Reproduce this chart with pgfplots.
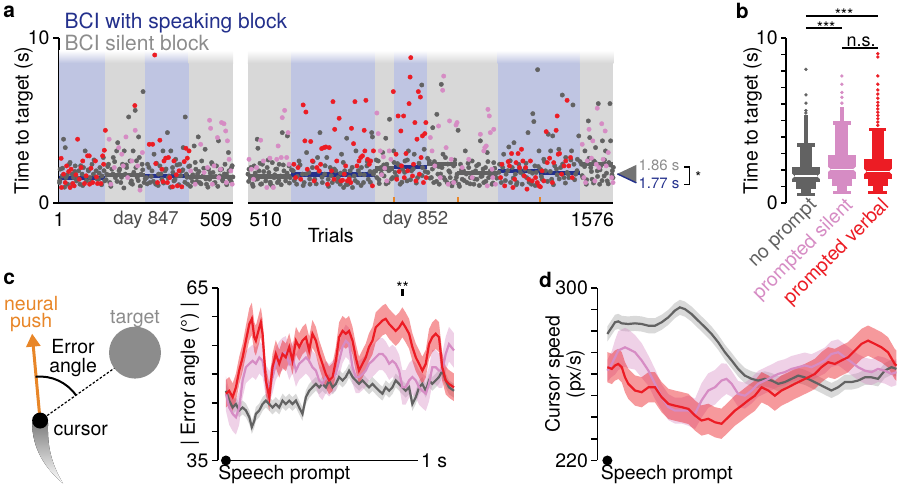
\documentclass[border=0pt]{standalone}
\usepackage{fontspec}
\setmainfont{TeX Gyre Heros}
\usepackage{pgfplots}
\usepackage{pgfplotstable}
\pgfplotsset{compat=1.18}
\usepgfplotslibrary{fillbetween}
\usetikzlibrary{arrows.meta}

\definecolor{bandblue}{RGB}{191,197,226}
\definecolor{bandgray}{RGB}{216,216,216}
\definecolor{dgray}{RGB}{98,98,98}
\definecolor{pinkc}{RGB}{214,140,196}
\definecolor{redc}{RGB}{236,28,36}
\definecolor{navy}{RGB}{35,48,140}
\definecolor{lgray}{RGB}{140,140,140}
\definecolor{orangec}{RGB}{232,134,40}

\newcommand\fs{\fontsize{19.5}{21}\selectfont}
\newcommand\fsm{\fontsize{15}{17}\selectfont}
\newcommand\fsb{\fontsize{21}{23}\selectfont\bfseries}

% block shading of panel a: solid part plus a fade at the top
\newcommand\band[3]{%
  \addplot[draw=none, fill=#3, forget plot] coordinates {(#1,0) (#2,0) (#2,8.5) (#1,8.5)} -- cycle;
  \addplot[draw=none, top color=white, bottom color=#3, forget plot] coordinates {(#1,8.48) (#2,8.48) (#2,9.25) (#1,9.25)} -- cycle;
}
% rectangles of the letter-value boxes in panel b
\newcommand\rect[5]{%
  \addplot[draw=none, fill=#5, forget plot] coordinates {(#1,#3) (#2,#3) (#2,#4) (#1,#4)} -- cycle;
}

\pgfplotsset{
  panel/.style={
    scale only axis, clip=false,
    axis x line=none, axis y line*=left,
    axis line style={line width=1.6pt},
    every tick/.style={black, line width=1.6pt},
    tick align=outside, major tick length=6pt,
    tick label style={font=\fs}, label style={font=\fs},
    /pgf/number format/assume math mode=true,
    xtick=\empty,
  },
  brk/.style={x filter/.expression={x+42*(x>509.5)}},
}

% ---------- panel a: trial, time to target (s) ----------
\pgfplotstableread[row sep=\\]{x y\\
4 2.04\\ 2 1.23\\ 10 1.63\\ 14 3.86\\ 19 3.35\\ 21 1.53\\ 26 1.13\\ 31 2.34\\ 39 1.74\\ 43 1.53\\ 48 2.24\\ 52 1.33\\ 58 1.94\\ 62 1.13\\
68 1.74\\ 72 2.14\\ 77 3.15\\ 81 1.33\\ 87 1.94\\ 91 1.53\\ 97 2.34\\ 101 1.74\\ 109 1.94\\ 116 1.43\\ 120 2.14\\ 126 1.63\\ 130 2.75\\ 134 1.33\\
140 1.74\\ 145 2.34\\ 149 1.23\\ 155 2.04\\ 159 2.75\\ 165 1.53\\ 169 3.15\\ 172 3.65\\ 176 1.94\\ 181 1.23\\ 186 2.34\\ 191 3.15\\ 194 1.74\\ 198 2.14\\
204 5.21\\ 208 2.54\\ 212 1.33\\ 215 1.13\\ 217 3.15\\ 223 5.61\\ 225 2.14\\ 229 1.53\\ 233 4.0\\ 235 2.75\\ 240 1.74\\ 243 2.34\\ 246 6.75\\ 249 1.23\\
256 1.53\\ 259 2.34\\ 266 1.23\\ 272 1.94\\ 278 2.95\\ 283 1.13\\ 291 1.74\\ 295 2.24\\ 301 1.43\\ 304 3.15\\ 310 1.94\\ 317 4.26\\ 322 1.63\\ 327 3.15\\
332 2.14\\ 336 1.33\\ 341 2.64\\ 346 1.63\\ 353 2.34\\ 359 1.94\\ 363 3.35\\ 369 5.21\\ 372 1.74\\ 376 1.13\\
382 2.24\\ 385 1.53\\ 390 1.29\\ 395 3.45\\ 400 2.04\\ 405 1.74\\ 407 4.0\\ 411 1.23\\ 417 2.54\\ 421 1.63\\ 427 3.25\\ 431 1.13\\ 437 2.04\\ 440 1.43\\
446 2.44\\ 450 1.84\\ 456 1.23\\ 460 2.24\\ 466 3.76\\ 470 1.63\\ 475 2.04\\ 479 1.33\\ 485 2.34\\ 489 1.74\\ 495 3.05\\ 499 1.43\\ 504 2.14\\ 508 1.57\\
510 1.74\\ 513 2.04\\ 518 1.53\\ 523 1.13\\ 528 2.24\\ 532 1.43\\ 537 3.86\\ 539 3.31\\ 542 1.94\\ 547 1.13\\ 552 2.34\\ 557 1.63\\ 562 1.33\\ 566 2.14\\
571 1.84\\ 576 1.13\\ 581 2.44\\ 586 1.53\\ 591 2.04\\ 596 1.23\\ 601 2.34\\ 605 1.63\\ 610 4.26\\ 615 1.94\\ 620 1.33\\ 625 4.06\\ 630 2.24\\ 633 1.53\\
642 1.94\\ 652 1.13\\ 659 2.54\\ 669 1.74\\ 674 1.23\\ 681 3.05\\ 688 1.84\\ 691 1.13\\ 698 2.14\\ 705 1.43\\ 713 2.75\\ 720 4.26\\ 727 1.23\\ 734 1.74\\
740 2.75\\ 744 1.43\\ 750 2.14\\ 756 1.23\\ 766 1.94\\ 773 1.53\\ 779 1.13\\ 783 2.95\\ 789 0.93\\ 792 1.94\\ 798 3.92\\ 802 1.13\\ 808 1.94\\ 815 0.93\\
820 1.63\\ 825 3.15\\ 830 1.23\\ 837 1.74\\ 841 2.14\\ 847 1.23\\ 857 2.24\\ 861 1.43\\ 866 1.9\\ 871 4.26\\ 873 4.0\\ 876 1.74\\
883 1.94\\ 886 1.53\\ 890 2.54\\ 893 1.17\\ 898 2.14\\ 903 3.05\\ 907 1.63\\ 912 3.92\\ 915 2.34\\ 919 1.23\\ 923 5.07\\ 927 2.04\\ 932 1.53\\ 935 3.15\\
939 1.84\\ 946 2.38\\ 954 1.13\\ 961 2.04\\ 968 2.54\\ 974 1.33\\ 978 3.15\\ 987 1.94\\ 995 2.95\\ 1005 1.53\\ 1017 7.15\\ 1019 2.14\\ 1024 3.25\\
1035 1.84\\ 1039 2.54\\ 1045 1.53\\ 1049 4.56\\ 1052 1.23\\ 1057 2.24\\ 1061 5.37\\ 1064 1.74\\ 1068 1.13\\ 1074 7.19\\ 1076 2.14\\ 1081 1.53\\ 1086 2.75\\
1091 1.23\\ 1096 1.94\\ 1100 1.53\\ 1105 1.03\\ 1110 2.24\\ 1115 1.33\\ 1120 1.74\\ 1123 4.4\\ 1125 1.13\\ 1130 2.34\\ 1135 1.43\\ 1139 1.94\\ 1144 3.15\\
1149 1.23\\ 1154 2.14\\ 1159 1.53\\ 1164 2.54\\ 1169 1.13\\ 1174 1.94\\ 1178 1.43\\ 1183 2.34\\ 1188 3.76\\ 1193 1.63\\ 1198 1.23\\ 1203 2.14\\ 1208 3.05\\
1212 1.53\\ 1217 1.94\\ 1222 1.13\\ 1227 2.44\\ 1232 1.74\\
1244 2.34\\ 1249 1.23\\ 1256 2.95\\ 1263 1.74\\ 1271 3.39\\ 1276 1.23\\ 1281 2.14\\ 1286 3.65\\ 1290 1.74\\ 1295 1.23\\ 1300 2.34\\ 1305 1.84\\ 1310 1.13\\
1318 2.04\\ 1323 1.53\\ 1327 4.26\\ 1331 1.9\\ 1337 1.13\\ 1341 5.41\\ 1344 4.93\\ 1347 2.24\\ 1351 1.84\\ 1355 8.08\\ 1359 3.15\\ 1363 2.04\\ 1368 1.43\\
1373 2.64\\ 1378 1.94\\ 1386 4.16\\ 1393 3.15\\ 1396 1.43\\ 1399 4.06\\ 1405 2.24\\ 1412 1.7\\ 1417 3.25\\ 1422 2.14\\ 1427 6.54\\ 1432 1.53\\ 1437 2.75\\
1441 1.84\\ 1446 1.53\\ 1454 3.15\\ 1458 5.94\\ 1461 2.34\\ 1466 1.74\\ 1471 2.64\\ 1475 4.06\\
1483 2.34\\ 1487 1.53\\ 1493 3.15\\ 1497 1.13\\ 1503 4.97\\ 1507 3.96\\ 1510 2.14\\ 1514 1.43\\ 1519 2.54\\ 1524 3.35\\ 1529 1.94\\ 1532 6.02\\ 1536 1.13\\
1539 2.24\\ 1544 3.76\\ 1549 1.63\\ 1553 3.15\\ 1558 1.33\\ 1563 2.44\\ 1566 6.02\\ 1568 3.76\\ 1573 1.94\\ 1575 1.53\\
3 1.35\\ 11 2.1\\ 17 0.95\\ 25 1.7\\ 33 2.45\\ 40 1.15\\ 47 1.9\\ 56 1.5\\ 64 2.25\\ 70 1.05\\ 79 1.6\\ 86 2.0\\ 94 1.25\\ 103 2.6\\ 112 1.45\\
118 1.8\\ 125 1.1\\ 132 1.95\\ 138 1.4\\ 143 2.2\\ 152 1.0\\ 158 1.75\\ 163 2.5\\ 170 1.3\\ 178 2.05\\ 183 1.55\\ 190 0.9\\ 197 2.3\\ 202 1.65\\ 210 1.2\\
219 1.85\\ 227 2.55\\ 232 1.35\\ 238 1.0\\ 245 2.0\\ 252 1.45\\ 258 1.15\\ 263 2.15\\ 270 1.6\\ 276 1.3\\ 285 2.4\\ 290 1.05\\ 298 1.75\\ 306 1.2\\ 313 2.05\\
319 1.5\\ 326 0.95\\ 333 1.85\\ 339 1.4\\ 345 2.3\\ 350 1.1\\ 356 1.65\\ 362 2.0\\ 368 1.25\\ 374 1.55\\ 379 2.2\\ 384 1.0\\ 391 1.7\\ 398 2.45\\ 403 1.3\\
409 1.9\\ 415 1.15\\ 423 2.1\\ 429 1.45\\ 435 0.95\\ 442 1.8\\ 448 2.35\\ 453 1.2\\ 458 1.6\\ 464 1.0\\ 471 2.0\\ 477 1.4\\ 483 1.75\\ 490 1.1\\ 497 1.95\\
503 1.3\\ 506 2.25\\
512 1.3\\ 519 2.15\\ 525 1.0\\ 531 1.8\\ 538 1.45\\ 545 2.4\\ 550 1.15\\ 556 1.9\\ 563 1.6\\ 569 2.6\\ 575 1.25\\ 582 1.0\\ 588 1.7\\ 594 2.05\\ 600 1.35\\
607 1.1\\ 613 2.3\\ 618 1.55\\ 624 1.8\\ 631 1.2\\ 637 2.0\\ 645 1.35\\ 654 1.6\\ 662 2.3\\ 671 1.05\\ 680 1.75\\ 690 1.45\\ 700 2.5\\ 709 1.15\\ 717 1.9\\
726 1.55\\ 735 2.25\\ 745 1.0\\ 753 1.65\\ 762 2.05\\ 771 1.3\\ 780 1.8\\ 788 2.45\\ 797 1.1\\ 806 1.55\\ 814 2.15\\ 823 1.35\\ 832 1.95\\ 840 1.05\\ 849 1.7\\
858 2.5\\ 867 1.25\\ 878 1.9\\ 884 2.6\\ 892 1.4\\ 899 1.8\\ 906 2.3\\ 913 1.15\\ 921 1.95\\ 929 1.45\\ 936 2.45\\ 943 1.6\\ 950 2.3\\ 959 1.25\\ 967 1.85\\
975 2.6\\ 984 1.4\\ 992 2.05\\ 1001 1.2\\ 1009 2.4\\ 1018 1.65\\ 1027 1.9\\ 1034 2.7\\ 1041 1.5\\ 1048 2.05\\ 1054 2.5\\ 1060 1.3\\ 1067 2.2\\ 1072 1.75\\
1079 2.95\\ 1085 1.4\\ 1093 2.35\\ 1099 1.85\\ 1106 1.2\\ 1113 2.6\\ 1118 1.55\\ 1127 1.0\\ 1133 2.0\\ 1141 1.35\\ 1147 1.75\\ 1152 2.4\\ 1158 1.15\\
1166 1.85\\ 1171 1.45\\ 1177 2.25\\ 1185 1.05\\ 1190 1.6\\ 1196 2.05\\ 1204 1.3\\ 1210 2.5\\ 1219 1.7\\ 1225 1.2\\ 1230 2.1\\ 1236 1.5\\ 1242 1.85\\
1253 2.15\\ 1261 1.35\\ 1268 1.95\\ 1275 2.55\\ 1284 1.5\\ 1293 1.1\\ 1303 2.05\\ 1313 1.7\\ 1321 2.4\\ 1330 1.25\\ 1340 1.8\\ 1348 1.05\\ 1357 2.2\\
1366 1.6\\ 1375 2.5\\ 1384 1.3\\ 1392 1.9\\ 1401 1.1\\ 1410 2.05\\ 1418 1.45\\ 1428 2.35\\ 1436 1.2\\ 1444 1.75\\ 1452 2.6\\ 1463 1.4\\ 1470 1.95\\
1479 2.5\\ 1485 1.65\\ 1492 2.2\\ 1498 1.4\\ 1505 2.7\\ 1512 1.9\\ 1518 1.2\\ 1523 2.45\\ 1530 1.6\\ 1537 2.0\\ 1543 1.35\\ 1550 2.6\\ 1556 1.8\\ 1561 1.15\\
1567 2.3\\ 1572 1.7\\ 1576 2.15\\
}\noprompt

\pgfplotstableread[row sep=\\]{x y\\
147 3.86\\ 152 1.13\\ 162 2.14\\ 175 3.35\\ 184 2.95\\ 188 2.24\\ 196 4.0\\ 201 1.53\\ 213 2.54\\ 223 4.4\\ 230 2.24\\ 237 0.77\\ 244 3.05\\
385 1.94\\ 398 1.13\\ 414 3.55\\ 424 1.84\\ 434 2.14\\ 440 5.01\\ 443 4.52\\ 448 1.13\\ 453 2.24\\ 463 3.96\\ 467 1.53\\ 472 2.04\\ 475 4.87\\ 482 4.8\\
487 4.36\\ 489 1.23\\ 492 3.76\\ 497 2.64\\ 502 1.94\\ 506 1.13\\
513 2.64\\ 520 2.04\\ 526 1.43\\ 535 2.14\\ 547 3.8\\ 555 2.54\\ 565 0.93\\ 574 2.71\\ 584 0.93\\ 594 2.64\\ 598 3.45\\ 607 2.75\\ 610 5.17\\ 617 5.61\\
623 2.75\\ 627 4.26\\ 630 2.34\\
886 5.45\\ 890 4.2\\ 896 3.15\\ 900 1.7\\ 905 2.79\\ 909 2.1\\ 915 1.33\\ 922 3.15\\ 927 2.64\\
1042 3.96\\ 1047 3.15\\ 1055 2.24\\ 1066 4.66\\ 1071 1.53\\ 1078 6.83\\ 1081 7.69\\ 1088 3.35\\ 1094 1.13\\ 1098 4.97\\ 1103 2.64\\ 1110 1.23\\ 1117 4.72\\
1120 4.87\\ 1135 2.14\\ 1154 2.64\\ 1164 1.53\\ 1188 4.16\\ 1198 3.15\\ 1201 3.35\\ 1205 3.45\\ 1208 1.03\\ 1210 5.67\\ 1214 5.27\\ 1217 4.26\\ 1222 2.04\\
1224 1.53\\ 1227 4.46\\ 1232 1.13\\
1485 3.55\\ 1490 1.53\\ 1495 1.23\\ 1500 2.54\\ 1505 4.46\\ 1512 2.71\\ 1516 3.76\\ 1522 1.33\\ 1526 2.34\\ 1529 5.74\\ 1534 2.14\\ 1542 4.8\\ 1546 2.64\\
1552 4.36\\ 1555 2.24\\ 1561 3.05\\ 1571 1.53\\ 1575 1.23\\
}\silent

\pgfplotstableread[row sep=\\]{x y\\
7 2.7\\ 8 0.93\\ 14 1.74\\ 19 1.23\\ 23 2.24\\ 29 1.9\\ 33 0.93\\ 36 2.04\\ 41 1.17\\ 45 1.03\\ 50 1.7\\ 55 3.86\\ 60 1.43\\ 65 2.14\\ 70 2.54\\ 75 1.17\\
80 1.64\\ 84 2.85\\ 89 2.85\\ 90 1.13\\ 94 2.1\\ 99 1.23\\ 107 2.54\\ 110 1.57\\ 113 1.17\\ 123 1.17\\ 128 2.85\\ 131 2.34\\ 133 3.19\\ 136 4.4\\
222 5.9\\
264 3.55\\ 274 3.55\\ 280 8.97\\ 283 2.38\\ 288 1.23\\ 295 3.8\\ 301 2.04\\ 304 1.29\\ 307 2.54\\ 312 2.71\\ 317 1.23\\ 320 2.75\\ 324 1.53\\ 332 0.97\\
336 2.54\\ 343 1.7\\ 346 1.03\\ 351 1.94\\ 359 0.97\\ 366 2.5\\ 371 3.31\\ 375 2.71\\ 380 3.15\\
644 2.34\\ 649 1.53\\ 656 2.14\\ 664 1.43\\ 671 5.94\\ 676 3.76\\ 679 5.51\\ 683 2.04\\ 693 3.72\\ 698 2.54\\ 703 1.33\\ 711 2.14\\ 718 1.94\\ 722 2.34\\
725 3.29\\ 732 3.35\\ 737 3.39\\ 742 1.13\\ 747 3.35\\ 754 1.94\\ 758 6.14\\ 761 1.43\\ 763 4.46\\ 769 2.54\\ 776 5.13\\ 781 1.33\\ 786 1.37\\ 791 1.74\\
795 2.24\\ 800 1.33\\ 805 1.43\\ 810 1.23\\ 812 4.52\\ 818 3.59\\ 822 6.14\\ 828 2.24\\ 834 2.54\\ 839 2.75\\ 844 2.85\\ 849 4.4\\ 851 3.15\\ 854 6.22\\
859 2.64\\ 864 2.34\\ 868 2.54\\ 873 1.03\\ 876 3.15\\
934 6.75\\ 942 2.95\\ 944 1.43\\ 948 5.27\\ 951 1.9\\ 956 4.36\\ 958 2.24\\ 964 5.27\\ 966 1.53\\ 971 2.99\\ 976 1.94\\ 980 6.02\\ 983 7.63\\ 985 8.81\\
990 1.63\\ 993 2.34\\ 997 4.87\\ 1000 1.33\\ 1003 3.86\\ 1007 6.75\\ 1010 1.74\\ 1013 6.42\\ 1015 2.75\\ 1019 4.06\\ 1022 1.23\\ 1026 4.2\\ 1029 4.87\\ 1030 1.53\\
1247 1.53\\ 1251 2.34\\ 1259 1.03\\ 1269 2.5\\ 1273 2.24\\ 1279 2.99\\ 1283 0.93\\ 1288 1.43\\ 1292 2.44\\ 1298 2.99\\ 1302 2.14\\ 1308 3.25\\ 1312 2.54\\
1316 1.63\\ 1320 2.14\\ 1324 0.83\\ 1329 1.43\\ 1334 2.54\\ 1339 1.33\\ 1349 1.53\\ 1354 1.23\\ 1359 1.03\\ 1363 0.97\\ 1368 1.94\\ 1373 1.33\\ 1380 4.32\\
1383 2.44\\ 1390 2.71\\ 1398 1.23\\ 1402 2.44\\ 1409 4.4\\ 1412 5.27\\ 1415 2.95\\ 1419 2.99\\ 1425 1.74\\ 1432 2.24\\ 1437 2.54\\ 1441 6.22\\ 1446 2.24\\
1451 2.75\\ 1456 1.53\\
}\verbal

% ---------- panel c: time (ms), |error angle| (deg), half width of band ----------
\pgfplotstableread[row sep=\\]{t y e\\
0 46.6 2.4\\ 17 47.1 2.4\\ 35 46.0 2.4\\ 52 47.7 2.4\\ 69 50.6 2.4\\ 87 52.9 2.4\\ 104 55.8 2.6\\ 122 58.7 2.8\\ 135 59.6 2.8\\ 148 56.4 2.6\\
156 55.8 2.6\\ 174 58.1 2.6\\ 182 59.0 2.6\\ 191 57.0 2.6\\ 208 48.9 2.4\\ 226 46.0 2.4\\ 243 51.2 2.4\\ 260 53.5 2.4\\ 278 51.8 2.4\\ 295 53.5 2.4\\
312 52.9 2.4\\ 330 54.7 2.4\\ 347 52.3 2.4\\ 365 55.8 2.4\\ 382 54.7 2.4\\ 399 55.8 2.4\\ 417 56.4 2.4\\ 434 54.1 2.4\\ 451 57.0 2.4\\ 469 55.8 2.4\\
486 53.5 2.4\\ 503 51.8 2.4\\ 521 50.0 2.4\\ 538 48.9 2.4\\ 556 49.5 2.4\\ 573 52.3 2.4\\ 590 56.4 2.6\\ 608 57.5 2.6\\ 625 57.0 2.6\\ 642 57.5 2.6\\
660 55.8 2.4\\ 677 52.9 2.4\\ 694 50.6 2.4\\ 712 51.8 2.4\\ 729 52.9 2.4\\ 746 54.7 2.4\\ 764 55.8 2.4\\ 781 58.1 2.6\\ 799 58.7 2.6\\ 816 59.3 2.6\\
833 59.6 2.6\\ 851 58.7 2.6\\ 868 58.1 2.6\\ 885 57.5 2.6\\ 903 58.1 2.6\\ 920 59.0 2.6\\ 937 58.1 2.6\\ 955 57.0 2.6\\ 972 54.7 2.4\\ 990 52.9 2.4\\
1007 51.8 2.4\\ 1024 50.6 2.4\\ 1042 51.8 2.4\\ 1059 55.2 2.6\\ 1076 56.4 2.6\\ 1094 57.0 2.6\\ 1111 56.4 2.6\\ 1128 51.2 2.4\\ 1146 48.9 2.4\\
1163 48.3 2.4\\ 1189 47.7 2.4\\
}\cverbal

\pgfplotstableread[row sep=\\]{t y e\\
0 46.6 3\\ 17 44.2 3\\ 35 43.1 3\\ 52 42.5 3\\ 69 44.2 3\\ 87 48.9 3\\ 104 51.2 2.8\\ 122 51.8 2.8\\ 139 52.3 2.8\\ 156 51.8 2.8\\ 174 52.9 2.8\\
191 52.3 2.8\\ 208 48.9 2.8\\ 226 47.7 2.8\\ 243 49.5 2.8\\ 260 51.8 2.8\\ 278 52.9 2.8\\ 295 53.5 2.8\\ 312 53.8 2.8\\ 330 51.8 2.8\\ 347 52.9 2.8\\
365 50.6 2.8\\ 382 51.8 2.8\\ 399 52.3 2.8\\ 417 52.9 2.8\\ 434 52.3 2.8\\ 451 51.2 2.8\\ 469 50.6 2.8\\ 486 48.9 2.8\\ 503 48.3 2.8\\ 521 49.5 2.8\\
538 48.9 2.8\\ 556 49.5 2.8\\ 573 50.0 2.8\\ 590 52.3 2.8\\ 608 54.7 2.8\\ 625 55.8 2.8\\ 642 55.2 2.8\\ 660 51.2 2.8\\ 677 49.5 2.8\\ 694 49.5 2.8\\
712 50.0 2.8\\ 729 50.6 2.8\\ 746 51.8 2.8\\ 764 52.3 2.8\\ 781 52.9 2.8\\ 799 53.5 2.8\\ 816 53.5 2.8\\ 833 52.9 2.8\\ 851 51.8 2.8\\ 868 52.3 2.8\\
885 51.8 2.8\\ 903 50.6 2.8\\ 920 47.7 3\\ 937 47.7 3\\ 955 48.9 3\\ 972 49.5 3\\ 990 48.9 3\\ 1007 47.7 3\\ 1024 47.1 3\\ 1042 46.6 3\\ 1059 48.3 3\\
1076 51.2 3\\ 1094 51.2 3\\ 1111 50.6 3\\ 1128 50.6 3\\ 1146 53.5 3\\ 1163 55.2 3\\ 1189 54.1 3\\
}\csilent

\pgfplotstableread[row sep=\\]{t y e\\
0 47.1 1.2\\ 17 45.4 1.2\\ 35 44.2 1.2\\ 52 44.8 1.2\\ 69 43.7 1.2\\ 87 44.2 1.2\\ 104 43.7 1.2\\ 122 42.5 1.2\\ 135 40.8 1.2\\ 148 41.9 1.2\\
156 43.1 1.2\\ 174 43.7 1.2\\ 191 44.8 1.2\\ 208 45.4 1.2\\ 226 44.8 1.2\\ 243 44.2 1.2\\ 260 44.8 1.2\\ 278 44.2 1.2\\ 295 45.4 1.2\\ 312 44.8 1.2\\
330 45.4 1.2\\ 347 44.8 1.2\\ 365 45.4 1.2\\ 382 44.2 1.2\\ 399 43.1 1.2\\ 417 46.0 1.2\\ 434 47.1 1.2\\ 451 47.7 1.2\\ 469 48.3 1.2\\ 486 47.7 1.2\\
503 48.3 1.2\\ 521 47.7 1.2\\ 538 48.9 1.2\\ 556 47.7 1.2\\ 573 48.3 1.2\\ 590 49.5 1.2\\ 608 48.9 1.2\\ 625 49.5 1.2\\ 642 50.6 1.2\\ 660 49.5 1.2\\
677 48.9 1.2\\ 694 48.3 1.2\\ 712 48.9 1.2\\ 729 48.3 1.2\\ 746 47.7 1.2\\ 764 48.3 1.2\\ 781 47.7 1.2\\ 799 47.1 1.2\\ 816 46.6 1.2\\ 833 47.7 1.2\\
851 47.1 1.2\\ 868 47.7 1.2\\ 885 48.9 1.2\\ 903 48.3 1.2\\ 920 47.7 1.2\\ 937 47.1 1.2\\ 955 47.7 1.2\\ 972 44.8 1.2\\ 990 46.0 1.2\\ 1007 47.7 1.2\\
1024 48.3 1.2\\ 1042 47.1 1.2\\ 1059 48.9 1.2\\ 1076 48.3 1.2\\ 1094 48.9 1.2\\ 1111 49.5 1.2\\ 1128 50.6 1.2\\ 1146 48.9 1.2\\ 1163 47.7 1.2\\ 1189 47.1 1.2\\
}\cnoprompt

% ---------- panel d: time (ms), cursor speed (px/s), half width of band ----------
\pgfplotstableread[row sep=\\]{t y e\\
0 278.6 3.5\\ 23 281.7 3.5\\ 40 284.0 3.5\\ 57 284.4 3.5\\ 75 283.5 3.5\\ 109 283.2 3.5\\ 144 283.5 3.5\\ 179 283.2 3.5\\ 214 282.4 3.5\\ 248 282.4 3.5\\
283 284.0 3.5\\ 318 286.3 3.5\\ 352 289.4 3.5\\ 378 290.9 3.5\\ 404 290.1 3.5\\ 439 287.8 3.5\\ 474 284.7 3.5\\ 509 281.7 3.5\\ 543 278.6 3.5\\ 578 274.7 3.5\\
613 270.1 3.5\\ 648 266.3 3.5\\ 682 262.4 3.5\\ 717 259.3 3.5\\ 752 257.8 3.5\\ 786 257.0 3.5\\ 821 257.8 3.5\\ 856 257.0 3.5\\ 891 255.5 3.5\\ 925 256.3 3.5\\
960 257.8 3.5\\ 995 259.3 3.5\\ 1029 258.5 3.5\\ 1064 257.0 3.5\\ 1099 255.5 3.5\\ 1134 253.9 3.5\\ 1168 252.4 3.5\\ 1203 253.9 3.5\\ 1238 256.3 3.5\\
1273 256.3 3.5\\ 1307 257.0 3.5\\ 1342 258.5 3.5\\ 1377 258.5 3.5\\ 1411 257.8 3.5\\ 1446 261.6 3.5\\ 1481 263.2 3.5\\ 1507 262.4 3.5\\
}\dnoprompt

\pgfplotstableread[row sep=\\]{t y e\\
0 261.6 5\\ 23 264.7 6\\ 40 267.8 8\\ 57 270.9 9\\ 75 271.7 9\\ 92 272.4 9\\ 109 271.7 9\\ 144 270.1 8\\ 179 266.3 8\\ 214 261.6 7\\ 248 255.5 7\\
283 249.3 6\\ 318 244.7 6\\ 352 243.1 6\\ 387 243.1 6\\ 422 243.1 7\\ 457 241.6 7\\ 491 247.8 8\\ 526 252.4 8\\ 561 253.9 8\\ 595 257.0 8\\ 621 257.8 7\\
648 255.5 6\\ 682 250.8 6\\ 717 250.0 6\\ 752 252.4 6\\ 786 255.5 6\\ 821 257.0 6\\ 856 258.5 6\\ 891 260.1 6\\ 925 260.9 6\\ 960 262.4 6\\ 995 263.2 6\\
1029 264.0 6\\ 1064 263.2 6\\ 1099 264.7 6\\ 1134 266.3 6\\ 1168 269.3 6\\ 1203 270.1 6\\ 1238 267.8 6\\ 1273 265.5 6\\ 1307 263.2 6\\ 1342 261.6 6\\
1377 260.9 6\\ 1411 262.4 6\\ 1446 261.6 6\\ 1481 260.1 6\\ 1507 260.9 6\\
}\dsilent

\pgfplotstableread[row sep=\\]{t y e\\
0 263.2 7\\ 23 262.4 7\\ 40 264.0 7\\ 57 264.7 7\\ 75 263.2 7\\ 92 258.5 7\\ 109 255.5 7\\ 144 252.4 7\\ 179 251.6 7\\ 214 253.9 7\\ 248 253.9 7\\
283 249.3 7\\ 318 246.2 7\\ 352 245.4 7\\ 387 244.7 7\\ 422 243.9 7\\ 457 240.8 7\\ 491 238.5 7\\ 526 239.3 7\\ 561 237.7 7\\ 595 237.0 7\\ 630 240.0 7\\
665 243.1 7\\ 700 245.4 7\\ 734 247.8 7\\ 769 250.0 7\\ 804 253.9 7\\ 839 252.4 7\\ 873 250.0 7\\ 908 252.4 7\\ 943 253.9 7\\ 977 255.5 7\\ 1012 257.0 7\\
1047 258.5 7\\ 1082 260.1 7\\ 1116 263.2 7\\ 1151 265.5 7\\ 1186 264.7 7\\ 1220 266.3 7\\ 1255 267.8 7\\ 1290 270.9 7\\ 1325 274.0 7\\ 1359 275.5 7\\
1394 274.0 7\\ 1429 272.4 7\\ 1463 270.1 7\\ 1498 264.7 7\\ 1507 263.9 7\\
}\dverbal

\begin{document}
\begin{tikzpicture}[font=\fs]
\begin{scope}[x=1pt, y=-1pt]
\path[use as bounding box] (0,0) rectangle (900,491);
\end{scope}

% ================= panel a =================
\begin{axis}[panel, at={(58pt,-202pt)}, anchor=south west, width=555pt, height=165pt,
  xmin=1, xmax=1618, ymin=0, ymax=10,
  ytick={0,10}, yticklabels={0,10},
  ylabel={Time to target (s)},
  ylabel style={at={(axis description cs:-0.064,0.5)}, anchor=center},
  every axis plot/.append style={brk}]
  \band{1}{135}{bandblue}
  \band{135}{251}{bandgray}
  \band{251}{379}{bandblue}
  \band{379}{509}{bandgray}
  \band{510}{636}{bandgray}
  \band{636}{881}{bandblue}
  \band{881}{937}{bandgray}
  \band{937}{1033}{bandblue}
  \band{1033}{1238}{bandgray}
  \band{1238}{1478}{bandblue}
  \band{1478}{1576}{bandgray}

  \addplot[only marks, mark=*, mark size=2.2pt, dgray] table[x=x, y=y] {\noprompt};
  \addplot[only marks, mark=*, mark size=2.2pt, pinkc] table[x=x, y=y] {\silent};
  \addplot[only marks, mark=*, mark size=2.2pt, redc] table[x=x, y=y] {\verbal};

  % block means
  \addplot[navy, line width=4.2pt] coordinates {(1,1.5) (135,1.5)};
  \addplot[dgray, line width=4.2pt] coordinates {(135,1.7) (251,1.7)};
  \addplot[navy, line width=4.2pt] coordinates {(251,1.65) (379,1.65)};
  \addplot[dgray, line width=4.2pt] coordinates {(379,1.55) (509,1.55)};
  \addplot[dgray, line width=4.2pt] coordinates {(510,1.6) (636,1.6)};
  \addplot[navy, line width=4.2pt] coordinates {(636,1.72) (881,1.72)};
  \addplot[dgray, line width=4.2pt] coordinates {(881,2.08) (937,2.08)};
  \addplot[navy, line width=4.2pt] coordinates {(937,2.15) (1033,2.15)};
  \addplot[dgray, line width=4.2pt] coordinates {(1033,2.38) (1120,2.38)};
  \addplot[dgray, line width=4.2pt] coordinates {(1120,1.8) (1238,1.8)};
  \addplot[navy, line width=4.2pt] coordinates {(1238,1.93) (1358,1.93)};
  \addplot[navy, line width=4.2pt] coordinates {(1358,1.8) (1478,1.8)};
  \addplot[dgray, line width=4.2pt] coordinates {(1478,2.35) (1576,2.35)};

  \addplot[ycomb, orangec, line width=2pt] coordinates {(937,0.35) (1124,0.35) (1361,0.35)};

  \draw[line width=1.8pt] (axis cs:1,0) -- (axis cs:509,0);
  \draw[line width=1.8pt] (axis cs:552,0) -- (axis cs:1618,0);
\end{axis}

% ================= panel b =================
\begin{axis}[panel, at={(786pt,-202pt)}, anchor=south west, width=108pt, height=165pt,
  xmin=0.45, xmax=3.45, ymin=0, ymax=10,
  ytick={0,...,10}, yticklabels={0,,,,,,,,,,10}, major tick length=5pt,
  ylabel={Time to target (s)},
  ylabel style={at={(axis description cs:-0.31,0.5)}, anchor=center}]
  % no prompt
  \rect{0.62}{1.38}{1.25}{2.15}{dgray}
  \rect{0.72}{1.28}{0.85}{1.25}{dgray}
  \rect{0.86}{1.14}{0.55}{0.85}{dgray}
  \rect{0.74}{1.26}{0.42}{0.58}{dgray}
  \rect{0.83}{1.17}{2.15}{3.45}{dgray}
  \rect{0.75}{1.25}{3.38}{3.6}{dgray}
  \rect{0.95}{1.05}{3.6}{5.3}{dgray}
  \rect{0.70}{1.30}{1.56}{1.66}{white}
  \addplot[draw=none, fill=white, forget plot] coordinates {(0.61,1.45) (0.69,1.61) (0.61,1.77)} -- cycle;
  \addplot[draw=none, fill=white, forget plot] coordinates {(1.39,1.45) (1.31,1.61) (1.39,1.77)} -- cycle;
  \addplot[only marks, mark=*, mark size=1.5pt, dgray] coordinates {(1,5.45) (1,5.6) (1,6.05) (1,6.55) (1,8.1)};
  % prompted silent
  \rect{1.62}{2.38}{1.44}{2.9}{pinkc}
  \rect{1.72}{2.28}{1.0}{1.44}{pinkc}
  \rect{1.86}{2.14}{0.7}{1.0}{pinkc}
  \rect{1.74}{2.26}{0.55}{0.72}{pinkc}
  \rect{1.82}{2.18}{2.9}{4.8}{pinkc}
  \rect{1.76}{2.24}{4.75}{4.98}{pinkc}
  \rect{1.95}{2.05}{4.98}{5.8}{pinkc}
  \rect{1.70}{2.30}{1.98}{2.08}{white}
  \addplot[draw=none, fill=white, forget plot] coordinates {(1.61,1.87) (1.69,2.03) (1.61,2.19)} -- cycle;
  \addplot[draw=none, fill=white, forget plot] coordinates {(2.39,1.87) (2.31,2.03) (2.39,2.19)} -- cycle;
  \addplot[only marks, mark=*, mark size=1.5pt, pinkc] coordinates {(2,6.05) (2,6.4) (2,6.7) (2,7.2) (2,7.7)};
  % prompted verbal
  \rect{2.62}{3.38}{1.42}{2.68}{redc}
  \rect{2.72}{3.28}{1.0}{1.42}{redc}
  \rect{2.86}{3.14}{0.72}{1.0}{redc}
  \rect{2.74}{3.26}{0.55}{0.74}{redc}
  \rect{2.83}{3.17}{2.68}{4.4}{redc}
  \rect{2.76}{3.24}{4.35}{4.55}{redc}
  \rect{2.70}{3.30}{1.85}{1.95}{white}
  \addplot[draw=none, fill=white, forget plot] coordinates {(2.61,1.74) (2.69,1.9) (2.61,2.06)} -- cycle;
  \addplot[draw=none, fill=white, forget plot] coordinates {(3.39,1.74) (3.31,1.9) (3.39,2.06)} -- cycle;
  \addplot[only marks, mark=*, mark size=1.5pt, redc] coordinates {(3,4.7) (3,4.9) (3,5.1) (3,5.3) (3,5.5) (3,5.7) (3,5.9) (3,6.1) (3,6.35) (3,6.6) (3,6.85) (3,7.2) (3,7.7) (3,8.85) (3,9.05)};

  \draw[line width=1.5pt] (axis cs:1,11.33) -- (axis cs:3,11.33);
  \draw[line width=1.5pt] (axis cs:1,10.6) -- (axis cs:2,10.6);
  \draw[line width=1.5pt] (axis cs:2,9.39) -- (axis cs:3,9.39);

  \node[rotate=45, anchor=east, text=dgray, xshift=7pt, yshift=-6pt, inner sep=1pt] at (axis cs:1,0) {no prompt};
  \node[rotate=45, anchor=east, text=pinkc, xshift=7pt, yshift=-6pt, inner sep=1pt] at (axis cs:2,0) {prompted silent};
  \node[rotate=45, anchor=east, text=redc, xshift=7pt, yshift=-6pt, inner sep=1pt] at (axis cs:3,0) {prompted verbal};
\end{axis}

% ================= panel c =================
\begin{axis}[panel, at={(217pt,-460pt)}, anchor=south west, width=238.5pt, height=173pt,
  xmin=-42, xmax=1200, ymin=35, ymax=65,
  ytick={35,40,...,65}, yticklabels={35,,,,,,65},
  ylabel={| Error angle (°) |},
  ylabel style={at={(axis description cs:-0.118,0.5)}, anchor=center}]
  \addplot[name path=cgu, draw=none, forget plot] table[x=t, y expr=\thisrow{y}+\thisrow{e}] {\cnoprompt};
  \addplot[name path=cgl, draw=none, forget plot] table[x=t, y expr=\thisrow{y}-\thisrow{e}] {\cnoprompt};
  \addplot[black!25, fill opacity=0.6, draw=none, forget plot] fill between[of=cgu and cgl];
  \addplot[name path=cpu, draw=none, forget plot] table[x=t, y expr=\thisrow{y}+\thisrow{e}] {\csilent};
  \addplot[name path=cpl, draw=none, forget plot] table[x=t, y expr=\thisrow{y}-\thisrow{e}] {\csilent};
  \addplot[pinkc, fill opacity=0.4, draw=none, forget plot] fill between[of=cpu and cpl];
  \addplot[name path=cru, draw=none, forget plot] table[x=t, y expr=\thisrow{y}+\thisrow{e}] {\cverbal};
  \addplot[name path=crl, draw=none, forget plot] table[x=t, y expr=\thisrow{y}-\thisrow{e}] {\cverbal};
  \addplot[redc, fill opacity=0.45, draw=none, forget plot] fill between[of=cru and crl];
  \addplot[dgray, line width=2.2pt] table[x=t, y=y] {\cnoprompt};
  \addplot[pinkc, line width=2.2pt] table[x=t, y=y] {\csilent};
  \addplot[redc, line width=2.2pt] table[x=t, y=y] {\cverbal};
  % time bar and significance
  \draw[line width=1.8pt] (axis cs:0,35) -- (axis cs:1000,35);
  \fill (axis cs:0,35) circle[radius=5pt];
  \draw[line width=3pt] (axis cs:922,63.6) -- (axis cs:922,64.7);
\end{axis}

% ================= panel d =================
\begin{axis}[panel, at={(597pt,-460pt)}, anchor=south west, width=300pt, height=173pt,
  xmin=-52, xmax=1510, ymin=220, ymax=300,
  ytick={220,230,...,300}, yticklabels={220,,,,,,,,300},
  ylabel={Cursor speed\\(px/s)},
  ylabel style={align=center, at={(axis description cs:-0.108,0.5)}, anchor=center}]
  \addplot[name path=dgu, draw=none, forget plot] table[x=t, y expr=\thisrow{y}+\thisrow{e}] {\dnoprompt};
  \addplot[name path=dgl, draw=none, forget plot] table[x=t, y expr=\thisrow{y}-\thisrow{e}] {\dnoprompt};
  \addplot[black!25, fill opacity=0.6, draw=none, forget plot] fill between[of=dgu and dgl];
  \addplot[name path=dpu, draw=none, forget plot] table[x=t, y expr=\thisrow{y}+\thisrow{e}] {\dsilent};
  \addplot[name path=dpl, draw=none, forget plot] table[x=t, y expr=\thisrow{y}-\thisrow{e}] {\dsilent};
  \addplot[pinkc, fill opacity=0.4, draw=none, forget plot] fill between[of=dpu and dpl];
  \addplot[name path=dru, draw=none, forget plot] table[x=t, y expr=\thisrow{y}+\thisrow{e}] {\dverbal};
  \addplot[name path=drl, draw=none, forget plot] table[x=t, y expr=\thisrow{y}-\thisrow{e}] {\dverbal};
  \addplot[redc, fill opacity=0.45, draw=none, forget plot] fill between[of=dru and drl];
  \addplot[dgray, line width=2.2pt] table[x=t, y=y] {\dnoprompt};
  \addplot[pinkc, line width=2.2pt] table[x=t, y=y] {\dsilent};
  \addplot[redc, line width=2.2pt] table[x=t, y=y] {\dverbal};
  \fill (axis cs:0,220) circle[radius=5pt];
\end{axis}

% ================= annotations in pixel coordinates =================
\begin{scope}[x=1pt, y=-1pt]
% panel a
\node[font=\fsb] at (8,11) {a};
\node[anchor=west, text=navy, font=\fontsize{21}{23}\selectfont] at (60,22) {BCI with speaking block};
\node[anchor=west, text=lgray, font=\fontsize{21}{23}\selectfont] at (60,42) {BCI silent block};
\node at (58,219) {1};
\node[anchor=east] at (235,219) {509};
\node[anchor=west] at (245,219) {510};
\node[anchor=east] at (617,219) {1576};
\node[text=black!70, font=\fontsize{18.5}{20}\selectfont] at (145,219) {day 847};
\node[text=black!70, font=\fontsize{18.5}{20}\selectfont] at (415,219) {day 852};
\node at (330,235) {Trials};
\fill[black!55] (617,173) -- (636,164) -- (636,182) -- cycle;
\draw[navy, line width=1.4pt] (617,173) -- (636,182);
\node[anchor=west, text=lgray, font=\fsm, inner sep=1pt] at (637,164) {1.86 s};
\node[anchor=west, text=navy, font=\fsm, inner sep=1pt] at (637,182) {1.77 s};
\draw[line width=1.3pt] (684,166) -- (689,166) -- (689,184) -- (684,184);
\node[font=\fsm] at (698,176) {*};
% panel b
\node[font=\fsb] at (742,10) {b};
\node[anchor=base, font=\fontsize{16}{18}\selectfont] at (844,19) {***};
\node[anchor=base, font=\fontsize{16}{18}\selectfont] at (826,32) {***};
\node[anchor=base, font=\fontsize{18}{20}\selectfont] at (861,45) {n.s.};
% panel c schematic
\node[font=\fsb] at (8,278) {c};
\fill[top color=black!50, bottom color=white] (31,422) .. controls (31,448) and (44,468) .. (62,483) .. controls (50,463) and (46,445) .. (47,422) -- cycle;
\draw[line width=1.2pt, dash pattern=on 2.5pt off 1.8pt] (39,420) -- (134,353);
\fill[black!45] (134,352) circle[radius=26pt];
\draw[orangec, line width=3pt, -{Triangle[length=13pt, width=14pt]}] (39,420) -- (31,333);
\fill[black] (39,420) circle[radius=8pt];
\draw[line width=2pt] (34.4,376.2) .. controls (50.3,374.5) and (65.8,381.7) .. (75,394.8);
\node[text=orangec, align=center, font=\fontsize{19.5}{17}\selectfont] at (30,313) {neural\\push};
\node[align=center, font=\fontsize{19.5}{19}\selectfont] at (72,357) {Error\\angle};
\node[text=lgray] at (134,318) {target};
\node[anchor=west] at (49,430) {cursor};
\node[anchor=west] at (417,460) {1 s};
\node[anchor=west] at (214,474) {Speech prompt};
\node[anchor=base, font=\fontsize{16}{18}\selectfont] at (402,293) {**};
% panel d
\node[font=\fsb, inner sep=1pt] at (545,279) {d};
\node[anchor=west] at (597,474) {Speech prompt};
\end{scope}
\end{tikzpicture}
\end{document}
